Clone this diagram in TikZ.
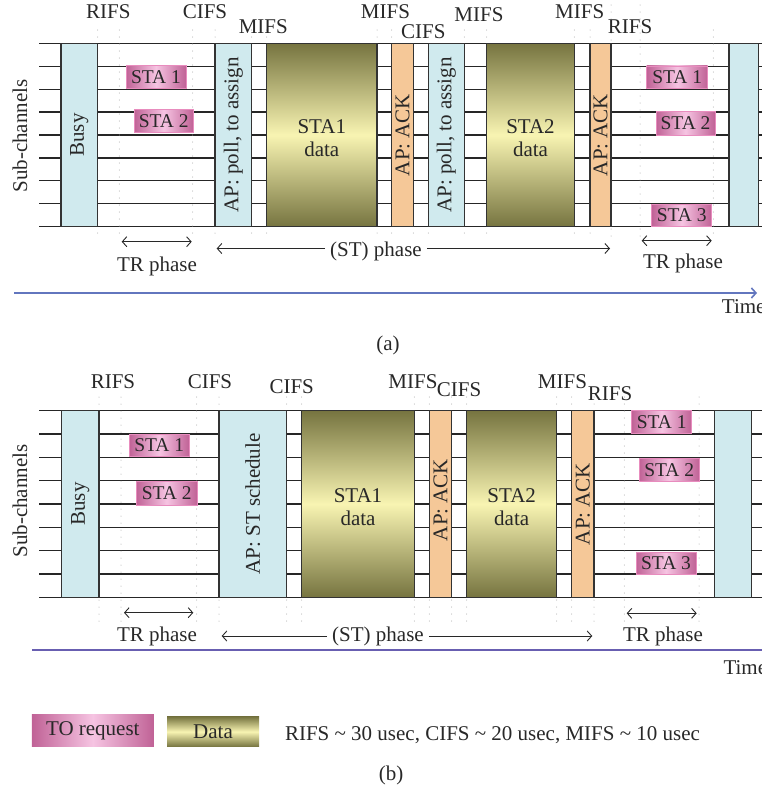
\documentclass[tikz,border=0pt]{standalone}
\usepackage{fontspec}
\setmainfont{Liberation Serif}
\usetikzlibrary{arrows.meta}

\definecolor{busyblue}{RGB}{208,234,238}
\definecolor{ackorange}{RGB}{245,200,152}
\definecolor{dataolive}{RGB}{118,116,64}
\definecolor{datalight}{RGB}{248,244,178}
\definecolor{reqpink}{RGB}{192,98,150}
\definecolor{reqlight}{RGB}{246,196,226}
\definecolor{reqedge}{RGB}{232,140,190}
\definecolor{timeblue}{RGB}{98,118,190}
\definecolor{inkgray}{RGB}{40,40,40}

\begin{document}
\begin{tikzpicture}[x=1pt, y=-1pt, >={Straight Barb[length=4.5pt,width=10pt]},
    every node/.style={font=\fontsize{21}{23}\selectfont, text=inkgray},
    chan/.style={line width=1.2pt, black!85},
    slot/.style={line width=1.4pt, draw=black!80},
    busybox/.style={slot, fill=busyblue},
    ackbox/.style={slot, fill=ackorange},
    databox/.style={slot, top color=dataolive, bottom color=dataolive, middle color=datalight},
    reqbox/.style={draw=reqedge, line width=0.8pt, left color=reqpink, right color=reqpink, middle color=reqlight,
        inner sep=0pt, minimum width=60pt, minimum height=22.6pt, font=\fontsize{19.5}{22}\selectfont},
    ifs/.style={gray!75, line width=1pt, line cap=round, dash pattern=on 0pt off 7pt},
    lbl/.style={inner sep=0pt, anchor=base},
    phase/.style={line width=0.9pt, inkgray},
    stlbl/.style={anchor=base, inner xsep=5pt, inner ysep=0pt}
  ]
  \useasboundingbox (0,0) rectangle (762,790);

  % ---------------- (a) ----------------
  % sub-channels
  \foreach \k in {0,...,8}
    \draw[chan] (39.3,{43.3+22.92*\k}) -- (762,{43.3+22.92*\k});
  % inter frame spaces
  \foreach \x in {97.7,119.3,192.7,215,251.7,266.7,377,391.7,413.3,428.3,464.3,486.7,574.3,590,713.3}
    \draw[ifs] (\x,30) -- (\x,240);
  \foreach \x in {611,640}
    \draw[ifs] (\x,5) -- (\x,240);

  % slots
  \draw[busybox] (61,43.3) rectangle (97.3,226.7);
  \node[rotate=90] (a-busy) at (79.2,135) {Busy};
  \draw[busybox] (215,43.3) rectangle (251.7,226.7);
  \node[rotate=90] (a-poll1) at (233.4,135) {AP: poll, to assign};
  \draw[databox] (266.7,43.3) rectangle (377,226.7);
  \node[align=center] (a-data1) at (321.8,138) {STA1\\data};
  \draw[ackbox] (391.7,43.3) rectangle (413.3,226.7);
  \node[rotate=90] (a-ack1) at (402.5,135) {AP: ACK};
  \draw[busybox] (428.3,43.3) rectangle (464.3,226.7);
  \node[rotate=90] (a-poll2) at (446.3,135) {AP: poll, to assign};
  \draw[databox] (486.7,43.3) rectangle (574.3,226.7);
  \node[align=center] (a-data2) at (530.5,138) {STA2\\data};
  \draw[ackbox] (590,43.3) rectangle (611,226.7);
  \node[rotate=90] (a-ack2) at (600.5,135) {AP: ACK};
  \draw[busybox] (729,43.3) rectangle (758.3,226.7);

  % TO requests
  \node[reqbox] (a-req1) at (156,77) {STA 1};
  \node[reqbox, minimum width=59.3pt, minimum height=23.4pt] (a-req2) at (163.7,121) {STA 2};
  \node[reqbox, minimum width=61pt] (a-req3) at (677.2,77.2) {STA 1};
  \node[reqbox, minimum width=59pt, minimum height=23.3pt] (a-req4) at (685.5,123.3) {STA 2};
  \node[reqbox] (a-req5) at (681.7,215.3) {STA 3};

  % ifs labels
  \node[lbl] (a-rifs1) at (108.3,18.3) {RIFS};
  \node[lbl] (a-cifs1) at (205,18.3) {CIFS};
  \node[lbl] (a-mifs1) at (263.3,33.3) {MIFS};
  \node[lbl] (a-mifs2) at (385.5,18.6) {MIFS};
  \node[lbl] (a-cifs2) at (423.3,38.6) {CIFS};
  \node[lbl] (a-mifs3) at (479,21.6) {MIFS};
  \node[lbl] (a-mifs4) at (579.7,18.6) {MIFS};
  \node[lbl] (a-rifs2) at (630,33.6) {RIFS};

  % phases
  \coordinate (a-tr1s) at (121.7,241.7);
  \coordinate (a-tr1e) at (191.7,241.7);
  \draw[phase,<->] (a-tr1s) -- (a-tr1e);
  \node[lbl] (a-tr1) at (157,271) {TR phase};
  \coordinate (a-tr2s) at (641.7,240.7);
  \coordinate (a-tr2e) at (711.7,240.7);
  \draw[phase,<->] (a-tr2s) -- (a-tr2e);
  \node[lbl] (a-tr2) at (683,268) {TR phase};
  \node[stlbl] (a-st) at (376,256) {(ST) phase};
  \coordinate (a-sts) at (216.7,248.5);
  \coordinate (a-ste) at (610,248.5);
  \draw[phase,->] (a-st.west |- a-sts) -- (a-sts);
  \draw[phase,->] (a-st.east |- a-ste) -- (a-ste);

  % time axis
  \coordinate (a-t0) at (14,293);
  \coordinate (a-t1) at (757,293);
  \draw[timeblue, line width=1.6pt, ->] (a-t0) -- (a-t1);
  \node[lbl, anchor=base west] (a-time) at (721.7,313.3) {Time};
  \node[inner sep=0pt] (a-cap) at (388,345) {(a)};

  % ---------------- (b) ----------------
  \node[rotate=90] (a-sub) at (20,136) {Sub-channels};
  \node[rotate=90] (b-sub) at (20,501) {Sub-channels};

  \foreach \k in {0,...,8}
    \draw[chan] (39.3,{410.7+23.33*\k}) -- (762,{410.7+23.33*\k});
  \foreach \x in {99,121,196.7,219,286.7,301.7,414.3,429.3,451.7,466.7,556.7,571.7,594,624.3,699}
    \draw[ifs] (\x,397) -- (\x,628);

  \draw[busybox] (61.7,410.7) rectangle (99,597.3);
  \node[rotate=90] (b-busy) at (80.3,504) {Busy};
  \draw[busybox] (219,410.7) rectangle (286.7,597.3);
  \node[rotate=90] (b-sched) at (252.8,504) {AP: ST schedule};
  \draw[databox] (301.7,410.7) rectangle (414.3,597.3);
  \node[align=center] (b-data1) at (358,507) {STA1\\data};
  \draw[ackbox] (429.3,410.7) rectangle (451.7,597.3);
  \node[rotate=90] (b-ack1) at (440.5,500) {AP: ACK};
  \draw[databox] (466.7,410.7) rectangle (556.7,597.3);
  \node[align=center] (b-data2) at (511.7,507) {STA2\\data};
  \draw[ackbox] (571.7,410.7) rectangle (594,597.3);
  \node[rotate=90] (b-ack2) at (582.8,504) {AP: ACK};
  \draw[busybox] (714.3,410.7) rectangle (751.7,597.3);

  \node[reqbox, minimum width=60.3pt] (b-req1) at (159.2,445.3) {STA 1};
  \node[reqbox, minimum width=61.3pt, minimum height=23.3pt] (b-req2) at (166.7,493.3) {STA 2};
  \node[reqbox] (b-req3) at (661.7,422) {STA 1};
  \node[reqbox, minimum width=60.3pt] (b-req4) at (669.2,469.7) {STA 2};
  \node[reqbox, minimum height=22pt] (b-req5) at (666,563.3) {STA 3};

  \node[lbl] (b-rifs1) at (113,388.3) {RIFS};
  \node[lbl] (b-cifs1) at (210,388.3) {CIFS};
  \node[lbl] (b-cifs2) at (291.7,393.3) {CIFS};
  \node[lbl] (b-mifs1) at (413,388.3) {MIFS};
  \node[lbl] (b-cifs3) at (459,396.6) {CIFS};
  \node[lbl] (b-mifs2) at (562.5,388.3) {MIFS};
  \node[lbl] (b-rifs2) at (610,400.3) {RIFS};

  \coordinate (b-tr1s) at (124,612.7);
  \coordinate (b-tr1e) at (193.3,612.7);
  \draw[phase,<->] (b-tr1s) -- (b-tr1e);
  \node[lbl] (b-tr1) at (157,641.7) {TR phase};
  \coordinate (b-tr2s) at (626.7,613.3);
  \coordinate (b-tr2e) at (696.7,613.3);
  \draw[phase,<->] (b-tr2s) -- (b-tr2e);
  \node[lbl] (b-tr2) at (663,641.7) {TR phase};
  \node[stlbl] (b-st) at (378,641.7) {(ST) phase};
  \coordinate (b-sts) at (221.7,636);
  \coordinate (b-ste) at (592.3,636);
  \draw[phase,->] (b-st.west |- b-sts) -- (b-sts);
  \draw[phase,->] (b-st.east |- b-ste) -- (b-ste);

  \coordinate (b-t0) at (32,650);
  \coordinate (b-t1) at (775,650);
  \draw[timeblue!80!violet, line width=1.6pt, ->] (b-t0) -- (b-t1);
  \node[lbl, anchor=base west] (b-time) at (723.3,674.5) {Time};

  % legend
  \node[reqbox, draw=none, minimum width=122pt, minimum height=31.7pt, font=\fontsize{21}{23}\selectfont] (leg-req) at (92.8,730.8) {TO request};
  \node[top color=dataolive, bottom color=dataolive, middle color=datalight, inner sep=0pt,
        minimum width=92pt, minimum height=30pt] (leg-data) at (213,731.7) {Data};
  \node[lbl, anchor=base west] (leg-ifs) at (284.8,740)
    {RIFS \textasciitilde{} 30 usec, CIFS \textasciitilde{} 20 usec, MIFS \textasciitilde{} 10 usec};
  \node[inner sep=0pt] (b-cap) at (391,775) {(b)};
\end{tikzpicture}
\end{document}
